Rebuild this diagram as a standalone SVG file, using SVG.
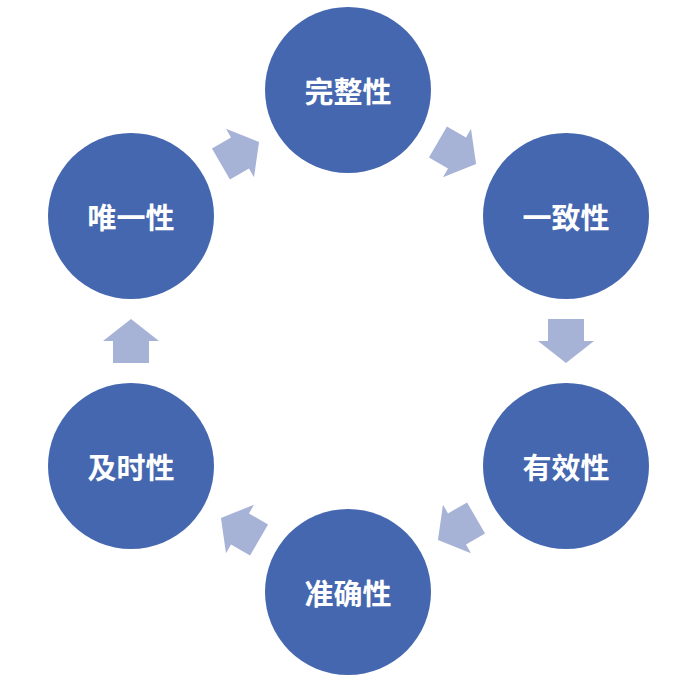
<svg xmlns="http://www.w3.org/2000/svg" width="692" height="685" viewBox="0 0 692 685">
<style>
.c{fill:#4567b0}
.t{fill:#fff;font-family:"Noto Sans CJK SC",sans-serif;font-weight:bold;font-size:29px;text-anchor:middle;dominant-baseline:central}
.a{fill:#a7b3d6}
</style>
<defs><path id="arr" d="M-22,-18 H0 V-28 L22,0 L0,28 V18 H-22 Z"/></defs>
<rect width="692" height="685" fill="#fff"/>
<g id="connectors">
<use href="#arr" class="a" transform="translate(457,153) rotate(30)"/>
<use href="#arr" class="a" transform="translate(566,341) rotate(90)"/>
<use href="#arr" class="a" transform="translate(457,529) rotate(150)"/>
<use href="#arr" class="a" transform="translate(240,529) rotate(210)"/>
<use href="#arr" class="a" transform="translate(131,341) rotate(270)"/>
<use href="#arr" class="a" transform="translate(240,153) rotate(330)"/>
</g>
<g id="n1"><circle class="c" cx="348" cy="90" r="83"/><text class="t" x="348" y="90">完整性</text></g>
<g id="n2"><circle class="c" cx="566" cy="216" r="83"/><text class="t" x="566" y="216">一致性</text></g>
<g id="n3"><circle class="c" cx="566" cy="466" r="83"/><text class="t" x="566" y="466">有效性</text></g>
<g id="n4"><circle class="c" cx="348" cy="592" r="83"/><text class="t" x="348" y="592">准确性</text></g>
<g id="n5"><circle class="c" cx="131" cy="466" r="83"/><text class="t" x="131" y="466">及时性</text></g>
<g id="n6"><circle class="c" cx="131" cy="216" r="83"/><text class="t" x="131" y="216">唯一性</text></g>
</svg>
